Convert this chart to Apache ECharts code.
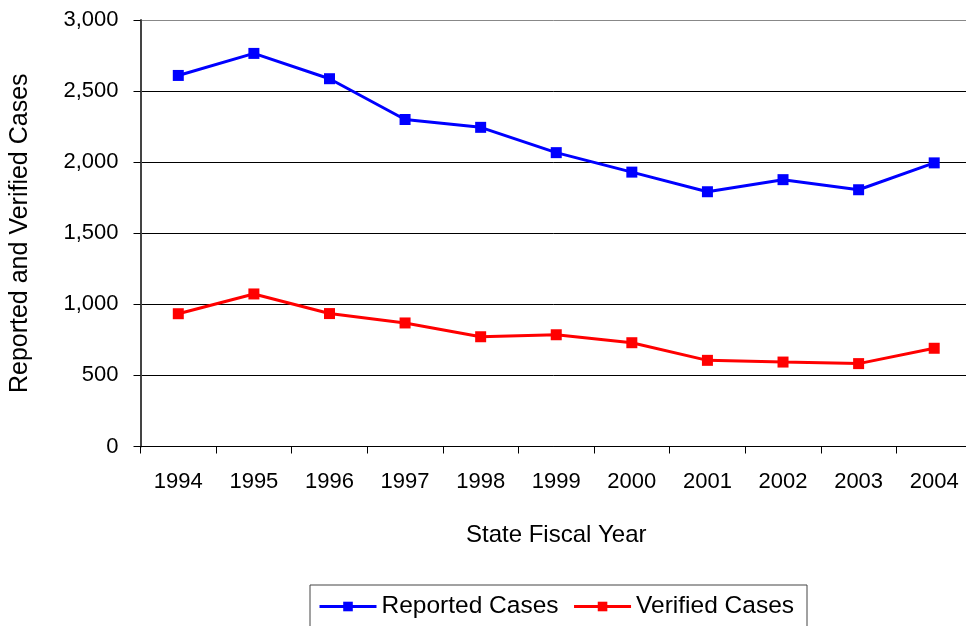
<!DOCTYPE html>
<html>
<head>
<meta charset="utf-8">
<title>Reported and Verified Cases</title>
<script src="https://cdn.jsdelivr.net/npm/echarts@6/dist/echarts.min.js"></script>
<style>
  html, body { margin: 0; padding: 0; background: #fff; }
  #chart { width: 966px; height: 626px; }
</style>
</head>
<body>
<div id="chart"></div>
<script>
  // data
  var years = ['1994', '1995', '1996', '1997', '1998', '1999', '2000', '2001', '2002', '2003', '2004'];
  var reported = [2610, 2765, 2587, 2300, 2245, 2067, 1930, 1792, 1877, 1806, 1995];
  var verified = [934, 1073, 935, 869, 772, 786, 730, 606, 594, 583, 691];

  var font = '"Liberation Sans", Arial, sans-serif';

  var myChart = echarts.init(document.getElementById('chart'));
  var option = {
    animation: false,
    backgroundColor: '#fff',
    // plot runs a little past the right edge, like the original
    grid: { left: 140.5, width: 831.5, top: 20, height: 426.5, outerBoundsMode: 'none', containLabel: false },
    legend: {
      left: 310,
      top: 585,
      padding: [9, 13, 14, 8],
      borderColor: '#444',
      borderWidth: 1,
      itemWidth: 57,
      itemHeight: 12,
      itemGap: 14,
      lineStyle: { width: 3 },
      textStyle: { fontFamily: font, fontSize: 24.5, color: '#000' },
      data: ['Reported Cases', 'Verified Cases']
    },
    xAxis: {
      type: 'category',
      data: years,
      boundaryGap: true,
      name: 'State Fiscal Year',
      nameLocation: 'middle',
      nameGap: 77,
      nameTextStyle: { fontFamily: font, fontSize: 24, color: '#000' },
      axisLine: { lineStyle: { color: '#000', width: 1 } },
      axisTick: { show: true, length: 7, lineStyle: { color: '#000' } },
      axisLabel: { fontFamily: font, fontSize: 22, color: '#000', margin: 24 }
    },
    yAxis: {
      type: 'value',
      min: 0,
      max: 3000,
      interval: 500,
      name: 'Reported and Verified Cases',
      nameLocation: 'middle',
      nameGap: 108,
      nameTextStyle: { fontFamily: font, fontSize: 25, color: '#000' },
      axisLine: { show: true, lineStyle: { color: '#444', width: 2 } },
      axisTick: { show: true, length: 7, lineStyle: { color: '#000' } },
      axisLabel: {
        fontFamily: font, fontSize: 22, color: '#000', margin: 22,
        formatter: function (v) { return v.toLocaleString('en-US'); }
      },
      splitLine: {
        show: true,
        lineStyle: { color: ['#000', '#000', '#000', '#000', '#000', '#000', '#888'], width: 1 }
      }
    },
    series: [
      {
        name: 'Reported Cases',
        type: 'line',
        data: reported,
        symbol: 'rect',
        symbolSize: 11,
        color: '#0000ff',
        lineStyle: { width: 3, color: '#0000ff' },
        itemStyle: { color: '#0000ff' }
      },
      {
        name: 'Verified Cases',
        type: 'line',
        data: verified,
        symbol: 'rect',
        symbolSize: 11,
        color: '#ff0000',
        lineStyle: { width: 3, color: '#ff0000' },
        itemStyle: { color: '#ff0000' }
      }
    ]
  };
  myChart.setOption(option);
</script>
</body>
</html>
